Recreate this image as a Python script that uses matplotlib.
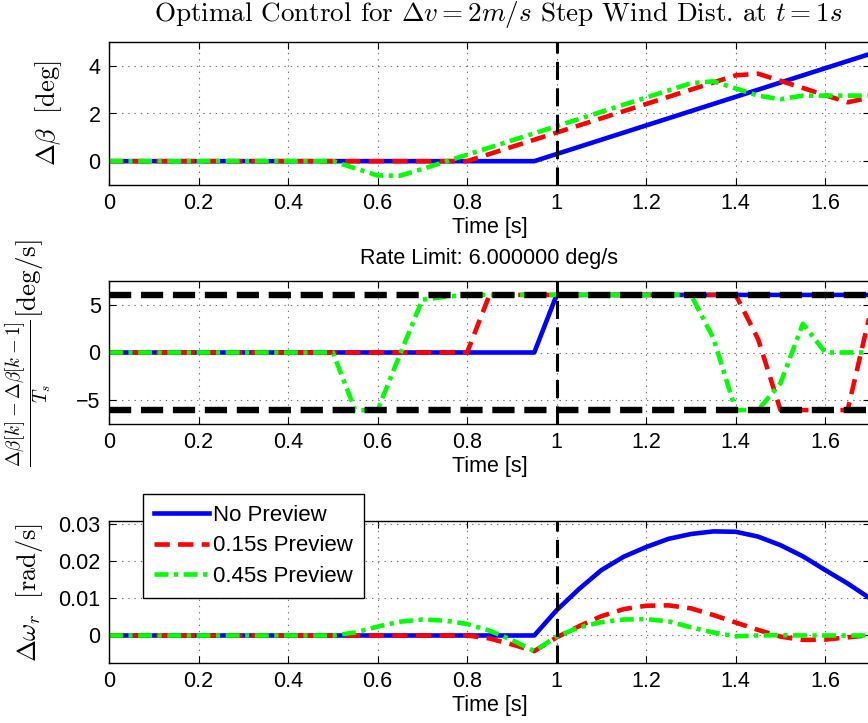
import matplotlib
matplotlib.use('Agg')
import matplotlib.pyplot as plt
import numpy as np

# sample times (Ts = 0.05 s)
t = [0.00, 0.05, 0.10, 0.15, 0.20, 0.25, 0.30, 0.35, 0.40, 0.45,
     0.50, 0.55, 0.60, 0.65, 0.70, 0.75, 0.80, 0.85, 0.90, 0.95,
     1.00, 1.05, 1.10, 1.15, 1.20, 1.25, 1.30, 1.35, 1.40, 1.45,
     1.50, 1.55, 1.60, 1.65, 1.70, 1.75]

labels = ['No Preview', '0.15s Preview', '0.45s Preview']

# pitch angle [deg]
beta_none = [0] * 20 + [0.3, 0.6, 0.9, 1.2, 1.5, 1.8, 2.1, 2.4, 2.7, 3.0,
                        3.3, 3.6, 3.9, 4.2, 4.5, 4.8]
beta_015 = [0] * 17 + [0.3, 0.6, 0.9, 1.2, 1.5, 1.8, 2.1, 2.4, 2.7, 3.0,
                       3.3, 3.6, 3.67, 3.37, 3.07, 2.77, 2.47, 2.67, 2.97]
beta_045 = [0] * 11 + [-0.3, -0.6, -0.61, -0.33, -0.03, 0.27, 0.57, 0.87, 1.17,
                       1.47, 1.77, 2.07, 2.37, 2.67, 2.97, 3.27, 3.35, 3.05,
                       2.75, 2.6, 2.75, 2.75, 2.75, 2.75, 2.75]

# pitch rate [deg/s]
rate_none = [0] * 20 + [6] * 16
rate_015 = [0] * 17 + [6] * 12 + [1.4, -6, -6, -6, -6, 4, 6]
rate_045 = [0] * 11 + [-6, -6, -0.2, 5.5, 5.8, 6] + [6] * 10 + \
           [1.5, -6, -6, -3.2, 3.0, 0, 0, 0, 0]

# rotor speed [rad/s]
w_none = [0] * 20 + [0.0068, 0.0125, 0.0176, 0.0212, 0.0238, 0.0260, 0.0273,
                     0.0280, 0.0279, 0.0266, 0.0243, 0.0213, 0.0176, 0.0140,
                     0.0100, 0.0058]
w_015 = [0] * 17 + [-0.0008, -0.0024, -0.0042, -0.0005, 0.0025, 0.0052, 0.0071,
                    0.0080, 0.0081, 0.0073, 0.0055, 0.0035, 0.0015, -0.0003,
                    -0.0012, -0.0011, -0.0005, 0.0001, 0.0003]
w_045 = [0] * 11 + [0.0008, 0.0024, 0.0037, 0.0043, 0.0040, 0.0031, 0.0013,
                    -0.0012, -0.0042, -0.0003, 0.0022, 0.0036, 0.0043, 0.0044,
                    0.0038, 0.0022, 0.0008, -0.0002, 0.0, 0.0001, 0, 0, 0, 0, 0]

rate_limit = 6.0
t_dist = 1.0
xticks = [0, 0.2, 0.4, 0.6, 0.8, 1, 1.2, 1.4, 1.6]
xticklabels = ['0', '0.2', '0.4', '0.6', '0.8', '1', '1.2', '1.4', '1.6']

plt.rcParams['font.family'] = ['Liberation Sans', 'DejaVu Sans']
plt.rcParams['mathtext.fontset'] = 'cm'
plt.rcParams['lines.scale_dashes'] = False
plt.rcParams['font.size'] = 15.5

fig = plt.figure(figsize=(8.68, 7.23), dpi=100)
W, H = 868.0, 723.0

def make_ax(top, bottom):
    return fig.add_axes([109 / W, 1 - bottom / H, (870 - 109) / W, (bottom - top) / H])

styles = [dict(color=(0, 0, 1), lw=3.3, ls='-'),
          dict(color=(1, 0, 0), lw=3.3, dashes=(11, 6)),
          dict(color=(0, 1, 0), lw=3.3, dashes=(10, 4, 3, 4))]

def setup(ax, ylim, yticks, yticklabels):
    ax.set_xticks(xticks)
    ax.set_xticklabels(xticklabels)
    ax.set_yticks(yticks)
    ax.set_yticklabels(yticklabels)
    ax.set_xlim(0, 1.7)
    ax.set_ylim(*ylim)
    ax.tick_params(direction='in', top=True, right=True, length=5, width=0.8,
                   labelsize=15.5, pad=6)
    ax.grid(True, color='0.45', ls=(0, (1, 3.5)), lw=0.8)
    for s in ax.spines.values():
        s.set_linewidth(1.0)
    ax.set_xlabel('Time [s]', fontsize=15.5, labelpad=2)
    ax.axvline(t_dist, color='k', lw=2.2, dashes=(13, 6), zorder=5)

# panel 1
ax1 = make_ax(42, 185)
for y, st, lab in zip([beta_none, beta_015, beta_045], styles, labels):
    ax1.plot(t, y, label=lab, **st)
setup(ax1, (-1, 5), [0, 2, 4], ['0', '2', '4'])
ax1.set_ylabel(r'$\Delta\beta\ \ [\mathrm{deg}]$', fontsize=19, labelpad=18)

# panel 2
ax2 = make_ax(281, 424)
for y, st in zip([rate_none, rate_015, rate_045], styles):
    ax2.plot(t, y, **st)
ax2.axhline(rate_limit, color='k', lw=4.6, dashes=(16, 7), zorder=4)
ax2.axhline(-rate_limit, color='k', lw=4.6, dashes=(16, 7), zorder=4)
setup(ax2, (-7.45, 7.45), [-5, 0, 5], ['\u22125', '0', '5'])
ax2.set_ylabel(r'$\frac{\Delta\beta[k]-\Delta\beta[k-1]}{T_s}[\mathrm{deg/s}]$',
               fontsize=19.5)
ax2.yaxis.set_label_coords(-0.072, 0.5)
ax2.set_title('Rate Limit: %f deg/s' % rate_limit, fontsize=15.5, pad=12)

# panel 3
ax3 = make_ax(521, 663)
for y, st, lab in zip([w_none, w_015, w_045], styles, labels):
    ax3.plot(t, y, label=lab, **st)
setup(ax3, (-0.0074, 0.0308), [0, 0.01, 0.02, 0.03], ['0', '0.01', '0.02', '0.03'])
ax3.set_ylabel(r'$\Delta\omega_r\ \ [\mathrm{rad/s}]$', fontsize=19, labelpad=10)

leg = ax3.legend(loc='upper left', bbox_to_anchor=(143 / W, 1 - 494 / H),
                 bbox_transform=fig.transFigure, fontsize=16, frameon=True,
                 fancybox=False, framealpha=1, edgecolor='k', handlelength=2.45,
                 handletextpad=0.2, labelspacing=0.42, borderpad=0.5,
                 borderaxespad=0)
leg.get_frame().set_linewidth(1.0)
leg.set_zorder(10)

fig.text(498 / W, 1 - 15 / H,
         r'Optimal Control for $\Delta v = 2m/s$ Step Wind Dist. at $t = 1s$',
         ha='center', va='center', fontsize=19.5, family='cmr10')

fig.savefig('out.png', dpi=100)
